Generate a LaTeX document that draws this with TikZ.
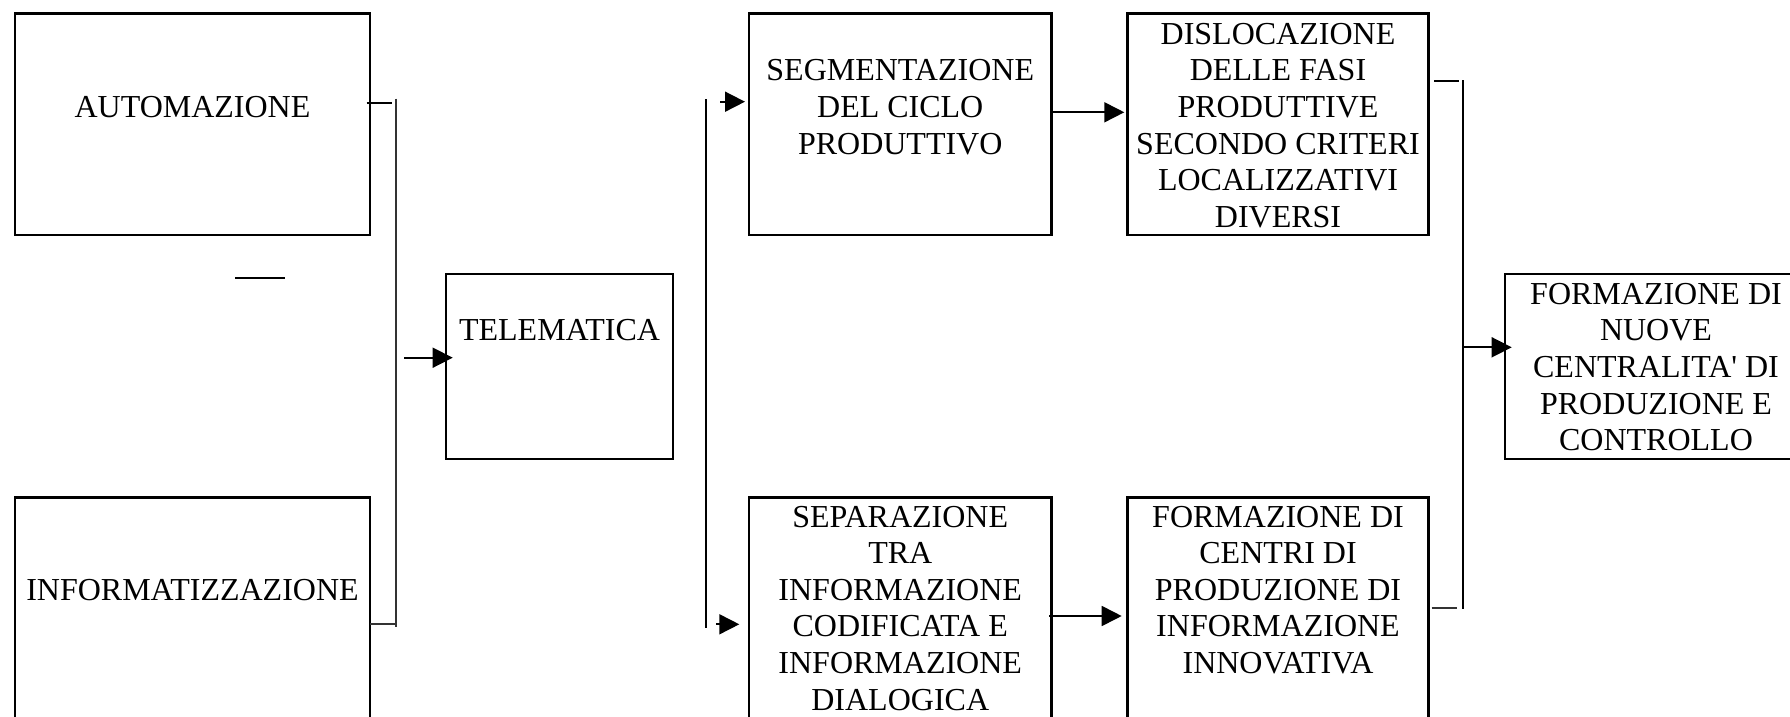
\documentclass[tikz,border=0pt]{standalone}
\usepackage{fontspec}
\setmainfont{Liberation Serif}
\usetikzlibrary{arrows.meta}
\newcommand\boxtxt[4]{\parbox[t][#2][t]{#1}{\centering\rule{0pt}{#3}#4\par}}
\begin{document}
\begin{tikzpicture}[x=1pt,y=-1pt,
  box/.style={draw, line width=2.4pt, inner sep=0pt, outer sep=0pt, anchor=north west, font={\fontsize{32pt}{36.6pt}\selectfont}},
  conn/.style={line width=1.7pt},
  bar/.style={line width=1.7pt, black!80},
  arr/.style={line width=1.7pt, -{Triangle[length=20pt,width=20pt]}}]
\useasboundingbox (0,0) rectangle (1790,717);
% boxes
\node[box] (auto) at (15,13.7) {\boxtxt{355pt}{221.3pt}{104pt}{AUTOMAZIONE}};
\node[box] (info) at (15,497.5) {\boxtxt{355pt}{263pt}{103pt}{INFORMATIZZAZIONE}};
\node[box] (tele) at (446,273.7) {\boxtxt{227pt}{185.3pt}{67.2pt}{TELEMATICA}};
\node[box] (seg) at (749,13.7) {\boxtxt{302.5pt}{221.3pt}{67.2pt}{SEGMENTAZIONE\\DEL CICLO\\PRODUTTIVO}};
\node[box] (dis) at (1127.5,13.7) {\boxtxt{301pt}{221.3pt}{30.7pt}{DISLOCAZIONE\\DELLE FASI\\PRODUTTIVE\\SECONDO CRITERI\\LOCALIZZATIVI\\DIVERSI}};
\node[box] (sep) at (749,497.5) {\boxtxt{302.5pt}{263pt}{29.5pt}{SEPARAZIONE\\TRA\\INFORMAZIONE\\CODIFICATA E\\INFORMAZIONE\\DIALOGICA}};
\node[box] (fce) at (1127.5,497.5) {\boxtxt{301pt}{263pt}{29.5pt}{FORMAZIONE DI\\CENTRI DI\\PRODUZIONE DI\\INFORMAZIONE\\INNOVATIVA}};
\node[box] (fnu) at (1505,273.7) {\boxtxt{302pt}{185.3pt}{30.5pt}{FORMAZIONE DI\\NUOVE\\CENTRALITA\textquotesingle{} DI\\PRODUZIONE E\\CONTROLLO}};
% connector points
\coordinate (a1) at (366.7,102.7);
\coordinate (a2) at (392,102.7);
\coordinate (v1t) at (396,98.7);
\coordinate (v1b) at (396,626.7);
\coordinate (b1) at (370,624);
\coordinate (b2) at (396,624);
\coordinate (t1) at (404,357.7);
\coordinate (t2) at (452.7,357.7);
\coordinate (s1) at (235,278);
\coordinate (s2) at (285,278);
\coordinate (v2t) at (706.3,99.3);
\coordinate (v2b) at (706.3,628.3);
\coordinate (g1) at (720,101.7);
\coordinate (g2) at (745,101.7);
\coordinate (p1) at (716,624.3);
\coordinate (p2) at (739.3,624.3);
\coordinate (d1) at (1052,112.3);
\coordinate (d2) at (1124.3,112.3);
\coordinate (f1) at (1049,616);
\coordinate (f2) at (1121.7,616);
\coordinate (r1) at (1434,80.7);
\coordinate (r2) at (1459.3,80.7);
\coordinate (v3t) at (1463.3,80);
\coordinate (v3b) at (1463.3,609);
\coordinate (q1) at (1431.7,608.3);
\coordinate (q2) at (1456.7,608.3);
\coordinate (n1) at (1463.3,347.3);
\coordinate (n2) at (1511.7,347.3);
% connectors
\draw[conn] (a1) -- (a2);
\draw[bar] (v1t) -- (v1b);
\draw[bar] (b1) -- (b2);
\draw[arr] (t1) -- (t2);
\draw[conn] (s1) -- (s2);
\draw[conn] (v2t) -- (v2b);
\draw[arr] (g1) -- (g2);
\draw[arr] (p1) -- (p2);
\draw[arr] (d1) -- (d2);
\draw[arr] (f1) -- (f2);
\draw[conn] (r1) -- (r2);
\draw[conn] (v3t) -- (v3b);
\draw[bar] (q1) -- (q2);
\draw[arr] (n1) -- (n2);
\end{tikzpicture}
\end{document}
